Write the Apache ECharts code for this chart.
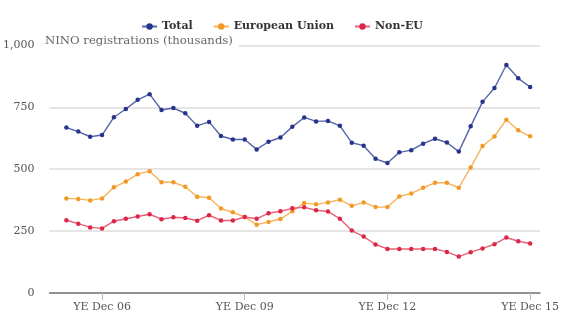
<!DOCTYPE html>
<html><head><meta charset="utf-8">
<script src="https://cdn.jsdelivr.net/npm/echarts@6/dist/echarts.min.js"></script>
<style>html,body{margin:0;padding:0;background:#fff}#c{width:564px;height:328px}</style>
</head><body><div id="c"></div>
<script>
var quarters = ['Mar 06','Jun 06','Sep 06','Dec 06','Mar 07','Jun 07','Sep 07','Dec 07','Mar 08','Jun 08','Sep 08','Dec 08','Mar 09','Jun 09','Sep 09','Dec 09','Mar 10','Jun 10','Sep 10','Dec 10','Mar 11','Jun 11','Sep 11','Dec 11','Mar 12','Jun 12','Sep 12','Dec 12','Mar 13','Jun 13','Sep 13','Dec 13','Mar 14','Jun 14','Sep 14','Dec 14','Mar 15','Jun 15','Sep 15','Dec 15'];
var total = [668,652,631,638,710,743,780,803,739,747,726,675,691,634,620,620,580,611,628,671,709,693,695,675,607,595,542,525,568,577,603,623,608,571,673,772,828,921,867,832];
var eu = [382,380,374,382,427,450,480,492,447,447,429,389,385,341,326,307,276,287,299,330,363,358,366,377,352,366,347,347,390,402,425,445,445,425,507,594,632,700,657,633];
var nonEu = [294,280,265,261,290,300,309,318,298,306,303,292,314,293,293,307,300,322,330,342,346,334,329,300,252,228,196,178,178,178,178,178,166,147,165,180,197,224,209,200];
var tickIdx = [3,15,27,39];
var tickLabels = ['YE Dec 06','YE Dec 09','YE Dec 12','YE Dec 15'];

function pairs(arr){ return arr.map(function(v,i){ return [i,v]; }); }
var font = 'DejaVu Serif';
var chart = echarts.init(document.getElementById('c'), null, {renderer:'canvas'});
function ser(name, data, dot, line){
  return {name:name, type:'line', data:pairs(data), symbol:'circle', symbolSize:4.5,
    itemStyle:{color:dot}, lineStyle:{color:line, width:1.4}, emphasis:{disabled:true}};
}
chart.setOption({
  animation:false,
  title:{text:'NINO registrations (thousands)', left:43, top:34, padding:[1,6,1,2],
    backgroundColor:'#fff',
    textStyle:{fontFamily:font, fontSize:11.7, fontWeight:'normal', color:'#666'}},
  legend:{top:16, left:'center', itemWidth:15, itemHeight:8, itemGap:20,
    textStyle:{fontFamily:font, fontWeight:'bold', fontSize:11, color:'#333'},
    data:['Total','European Union','Non-EU']},
  grid:{left:45, right:24, top:45.4, bottom:35},
  xAxis:{type:'value', min:-1.42, max:39.83,
    axisLine:{show:true, lineStyle:{color:'#777', width:1.5}},
    axisTick:{show:true, length:7, customValues:tickIdx, lineStyle:{color:'#bbb'}},
    axisLabel:{customValues:tickIdx, fontFamily:font, fontSize:11, color:'#555', margin:9,
      formatter:function(v){ return tickLabels[tickIdx.indexOf(Math.round(v))] || ''; }},
    splitLine:{show:false}},
  yAxis:{type:'value', min:0, max:1000, interval:250,
    axisLine:{show:false}, axisTick:{show:false},
    axisLabel:{fontFamily:font, fontSize:11, color:'#555', margin:15,
      formatter:function(v){ return v>=1000 ? '1,000' : String(v); }},
    splitLine:{lineStyle:{color:'#ddd', width:1.5}}},
  series:[
    ser('Total', total, '#27348b', '#5563a8'),
    ser('European Union', eu, '#f39a26', '#f6b25a'),
    ser('Non-EU', nonEu, '#dc2748', '#e8607a')
  ]
});
</script></body></html>
